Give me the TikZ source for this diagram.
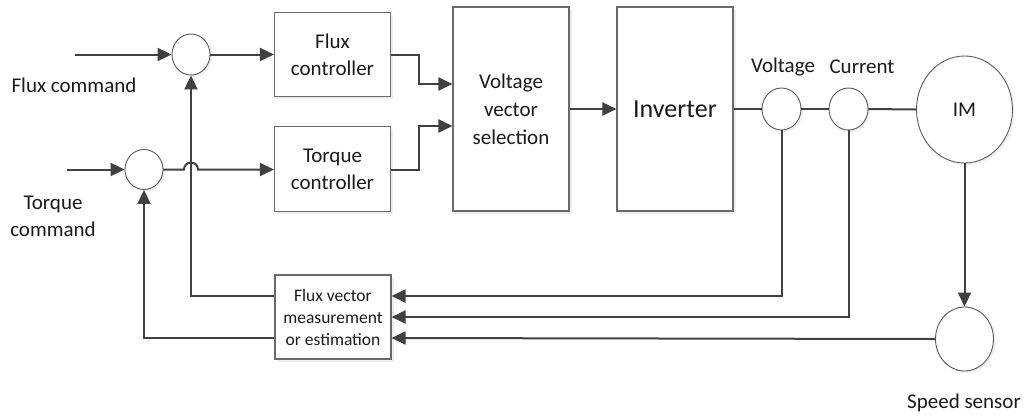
\documentclass[tikz,border=0pt]{standalone}
\usepackage{fontspec}
\setmainfont{Carlito}
\usetikzlibrary{arrows.meta,shadows,shapes.geometric}

\definecolor{wire}{HTML}{404040}
\definecolor{frame}{HTML}{6A6A6A}
\definecolor{ink}{HTML}{1A1A1A}

\tikzset{
  blockbox/.style={draw=frame, line width=1.1pt, fill=white, rectangle,
    minimum width=116pt, inner sep=0pt, align=center, text=ink,
    drop shadow={shadow xshift=2.5pt, shadow yshift=-2.5pt, fill=black!13}},
  junction/.style={draw=frame!85!black, line width=0.9pt, fill=white, ellipse,
    inner sep=0pt,
    drop shadow={shadow xshift=2pt, shadow yshift=-2pt, fill=black!12}},
  label/.style={text=ink, align=center, inner sep=0pt},
  wireline/.style={draw=wire, line width=2pt},
  flow/.style={wireline, -{Triangle[length=14pt,width=13pt]}},
  mainfont/.style={font=\fontsize{21}{27}\selectfont},
  smallfont/.style={font=\fontsize{17.5}{22}\selectfont},
}

\begin{document}
\begin{tikzpicture}[x=1pt, y=-1pt, mainfont]
\useasboundingbox (0,0) rectangle (1025,416);

% summing junctions
\node[junction, minimum width=38pt, minimum height=41pt] (sumf) at (191,54.5) {};
\node[junction, minimum width=38pt, minimum height=40pt] (sumt) at (144,169.5) {};

% controllers
\node[blockbox, minimum height=84.5pt] (fluxc) at (332.5,54.5) {Flux\\controller};
\node[blockbox, minimum height=85pt] (torquec) at (332.5,169.2) {Torque\\controller};

% switching table and inverter
\node[blockbox, minimum height=204pt, font=\fontsize{21}{28}\selectfont] (vvs) at (511,109) {Voltage\\vector\\selection};
\node[blockbox, minimum height=204pt, font=\fontsize{26}{30}\selectfont] (inv) at (675,109) {Inverter};

% estimator
\node[blockbox, minimum height=84pt, smallfont] (fve) at (333,317) {Flux vector\\measurement\\or estimation};

% sensors and machine
\node[junction, minimum width=39pt, minimum height=42pt] (vs) at (781.5,109) {};
\node[junction, minimum width=39pt, minimum height=42pt] (cs) at (848.5,109) {};
\node[junction, minimum width=96pt, minimum height=107pt, label] (im) at (964.5,109.5) {IM};
\node[junction, minimum width=58pt, minimum height=64pt] (ss) at (964.5,339) {};

% labels
\node[label] (lflux) at (74,85) {Flux command};
\node[label] (ltorque) at (53,216.5) {Torque\\command};
\node[label] (lvolt) at (783,67) {Voltage};
\node[label] (lcurr) at (862,67) {Current};
\node[label] (lspeed) at (964,403) {Speed sensor};

% reference inputs
\coordinate (fin) at (75,54.5);
\coordinate (tin) at (67,169.5);
\draw[flow] (fin) -- (sumf.west);
\draw[flow] (tin) -- (sumt.west);

% errors to controllers (torque error hops over the flux feedback)
\draw[flow] (sumf.east) -- (fluxc.west);
\draw[flow] (sumt.east) -- (184,169.5) arc[start angle=180, end angle=0, radius=7pt] -- (torquec.west |- 0,169.5);

% controllers to switching table
\coordinate (vvsa) at (vvs.west |- 0,84);
\coordinate (vvsb) at (vvs.west |- 0,126);
\draw[flow] (fluxc.east) -- (419,54.5) -- (419,84) -- (vvsa);
\draw[flow] (torquec.east |- 0,169.5) -- (419,169.5) -- (419,126) -- (vvsb);

% power path
\draw[flow] (vvs.east) -- (inv.west);
\draw[wireline] (inv.east) -- (vs.west);
\draw[wireline] (vs.east) -- (cs.west);
\draw[wireline] (cs.east) -- (im.west);
\draw[flow] (im.south) -- (ss.north);

% measurements back to the estimator
\coordinate (fea) at (fve.east |- 0,296);
\coordinate (feb) at (fve.east |- 0,317);
\coordinate (fec) at (fve.east |- 0,338);
\draw[flow] (vs.south) -- (781.5,296) -- (fea);
\draw[flow] (cs.south) -- (848.5,317) -- (feb);
\draw[flow] (ss.west) -- (fec);

% estimated flux and torque fed back to the junctions
\coordinate (fwa) at (fve.west |- 0,296);
\coordinate (fwb) at (fve.west |- 0,338);
\draw[flow] (fwa) -- (191,296) -- (sumf.south);
\draw[flow] (fwb) -- (144,338) -- (sumt.south);
\end{tikzpicture}
\end{document}
